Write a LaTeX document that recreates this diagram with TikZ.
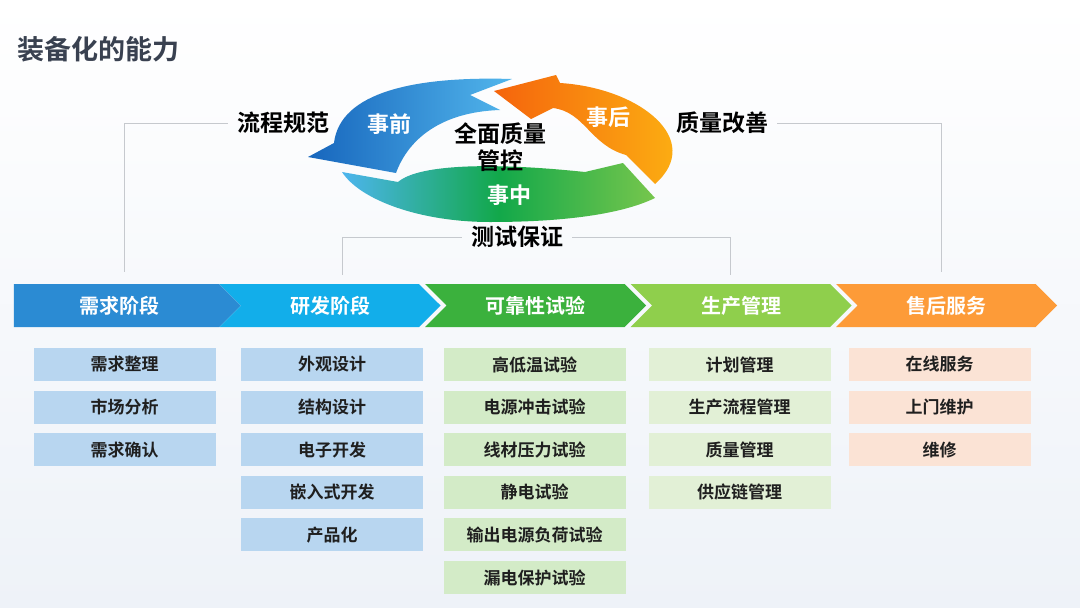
\documentclass[tikz,border=0pt]{standalone}
\usepackage{fontspec}
\setmainfont{Noto Sans CJK SC}[BoldFont={Noto Sans CJK SC Bold}]
\usepackage{xcolor}
\usetikzlibrary{shapes.symbols,positioning}
\definecolor{titlegray}{HTML}{394150}
\definecolor{linegray}{HTML}{C6C9CE}
\definecolor{stA}{HTML}{2B8BD3}
\definecolor{stB}{HTML}{12AEEA}
\definecolor{stC}{HTML}{3BB13D}
\definecolor{stD}{HTML}{8FCF4C}
\definecolor{stE}{HTML}{FD9B38}
\definecolor{boxblue}{HTML}{B8D6F0}
\definecolor{boxgreen}{HTML}{D3EBC7}
\definecolor{boxlime}{HTML}{E2F0D6}
\definecolor{boxpeach}{HTML}{FBE3D5}
\definecolor{blueDark}{HTML}{1766BD}
\definecolor{blueLight}{HTML}{52B6EC}
\definecolor{grnBlue}{HTML}{4DB5EE}
\definecolor{grnMid}{HTML}{12A84A}
\definecolor{grnLight}{HTML}{76C64C}
\definecolor{orgRed}{HTML}{F5640C}
\definecolor{orgYel}{HTML}{FDB913}
\definecolor{bgLow}{HTML}{EEF2F8}
\newcommand{\stagefont}{\fontsize{20}{24}\selectfont\bfseries}
\newcommand{\itemfont}{\fontsize{17}{20}\selectfont\bfseries}
\newcommand{\ringfont}{\fontsize{22}{26}\selectfont\bfseries}
\newcommand{\labfont}{\fontsize{23}{27}\selectfont\bfseries}
\tikzset{
  stage/.style={signal,signal to=east,signal pointer angle=90,minimum width=221pt,minimum height=43pt,inner sep=0pt,text=white,font=\stagefont},
  notched/.style={signal from=west},
  item/.style={rectangle,minimum width=182pt,minimum height=33pt,inner sep=0pt,text=black!88,font=\itemfont},
  ringtxt/.style={text=white,font=\ringfont},
  lab/.style={text=black,font=\labfont,inner sep=9pt},
  link/.style={draw=linegray,line width=.8pt}
}
\begin{document}
\begin{tikzpicture}[x=1pt,y=-1pt]
  \useasboundingbox (0,0) rectangle (1080,608);
  \shade[top color=white,bottom color=bgLow] (0,0) rectangle (1080,608);
  % title
  \node[anchor=west,text=titlegray,font=\fontsize{27}{32}\selectfont\bfseries] (title) at (14,49) {装备化的能力};
  % quality cycle
  \shade[left color=blueDark,right color=blueLight]
    (512,79) .. controls (415,76) and (340,92) .. (334,143)
    -- (308,157) -- (396,173)
    .. controls (408,140) and (440,112) .. (500,110)
    -- (470,95) -- cycle;
  \shade[left color=grnBlue,right color=grnLight,middle color=grnMid]
    (342,172) -- (398,182)
    .. controls (420,163) and (500,163) .. (585,172)
    -- (623,163) -- (655,198)
    .. controls (620,215) and (560,222) .. (490,222)
    .. controls (420,222) and (360,200) .. (342,172) -- cycle;
  \shade[left color=orgRed,right color=orgYel]
    (494,91) -- (556,75) -- (560,83)
    .. controls (640,88) and (705,140) .. (655,184)
    -- (626,155)
    .. controls (590,145) and (585,112) .. (553,108)
    -- (531,119) -- cycle;
  \node[ringtxt] (before) at (389,124) {事前};
  \node[ringtxt] (after) at (608,117) {事后};
  \node[ringtxt] (during) at (509,195) {事中};
  \node[align=center,font=\labfont,text=black] (core) at (500,147) {全面质量\\管控};
  % side labels
  \node[lab] (flow) at (283,123) {流程规范};
  \node[lab] (qual) at (722,123) {质量改善};
  \node[lab] (test) at (517,237) {测试保证};
  % stages
  \node[stage,minimum width=227pt,fill=stA] (S1) at (116.5,305.5) {\hspace{6pt}需求阶段};
  \node[stage,notched,fill=stB] (S2) at (330,305.5) {研发阶段};
  \node[stage,notched,fill=stC] (S3) at (535.5,305.5) {可靠性试验};
  \node[stage,notched,fill=stD] (S4) at (741,305.5) {生产管理};
  \node[stage,notched,fill=stE] (S5) at (946.5,305.5) {售后服务};
  \coordinate (flowend) at (124,272);
  \coordinate (qualend) at (941,272);
  \coordinate (testl) at (342,275);
  \coordinate (testr) at (730,275);
  \draw[link] (flow.west) -| (flowend);
  \draw[link] (qual.east) -| (qualend);
  \draw[link] (test.west) -| (testl);
  \draw[link] (test.east) -| (testr);
  % demand
  \node[item,fill=boxblue] (d1) at (124.5,364.5) {需求整理};
  \node[item,fill=boxblue,below=9.2pt of d1] (d2) {市场分析};
  \node[item,fill=boxblue,below=9.2pt of d2] (d3) {需求确认};
  % development
  \node[item,fill=boxblue] (r1) at (332,364.5) {外观设计};
  \node[item,fill=boxblue,below=9.2pt of r1] (r2) {结构设计};
  \node[item,fill=boxblue,below=9.2pt of r2] (r3) {电子开发};
  \node[item,fill=boxblue,below=9.2pt of r3] (r4) {嵌入式开发};
  \node[item,fill=boxblue,below=9.2pt of r4] (r5) {产品化};
  % reliability tests
  \node[item,fill=boxgreen] (t1) at (534.5,364.5) {高低温试验};
  \node[item,fill=boxgreen,below=9.2pt of t1] (t2) {电源冲击试验};
  \node[item,fill=boxgreen,below=9.2pt of t2] (t3) {线材压力试验};
  \node[item,fill=boxgreen,below=9.2pt of t3] (t4) {静电试验};
  \node[item,fill=boxgreen,below=9.2pt of t4] (t5) {输出电源负荷试验};
  \node[item,fill=boxgreen,below=9.2pt of t5] (t6) {漏电保护试验};
  % production
  \node[item,fill=boxlime] (p1) at (739.5,364.5) {计划管理};
  \node[item,fill=boxlime,below=9.2pt of p1] (p2) {生产流程管理};
  \node[item,fill=boxlime,below=9.2pt of p2] (p3) {质量管理};
  \node[item,fill=boxlime,below=9.2pt of p3] (p4) {供应链管理};
  % service
  \node[item,fill=boxpeach] (s1) at (939.5,364.5) {在线服务};
  \node[item,fill=boxpeach,below=9.2pt of s1] (s2) {上门维护};
  \node[item,fill=boxpeach,below=9.2pt of s2] (s3) {维修};
\end{tikzpicture}
\end{document}
